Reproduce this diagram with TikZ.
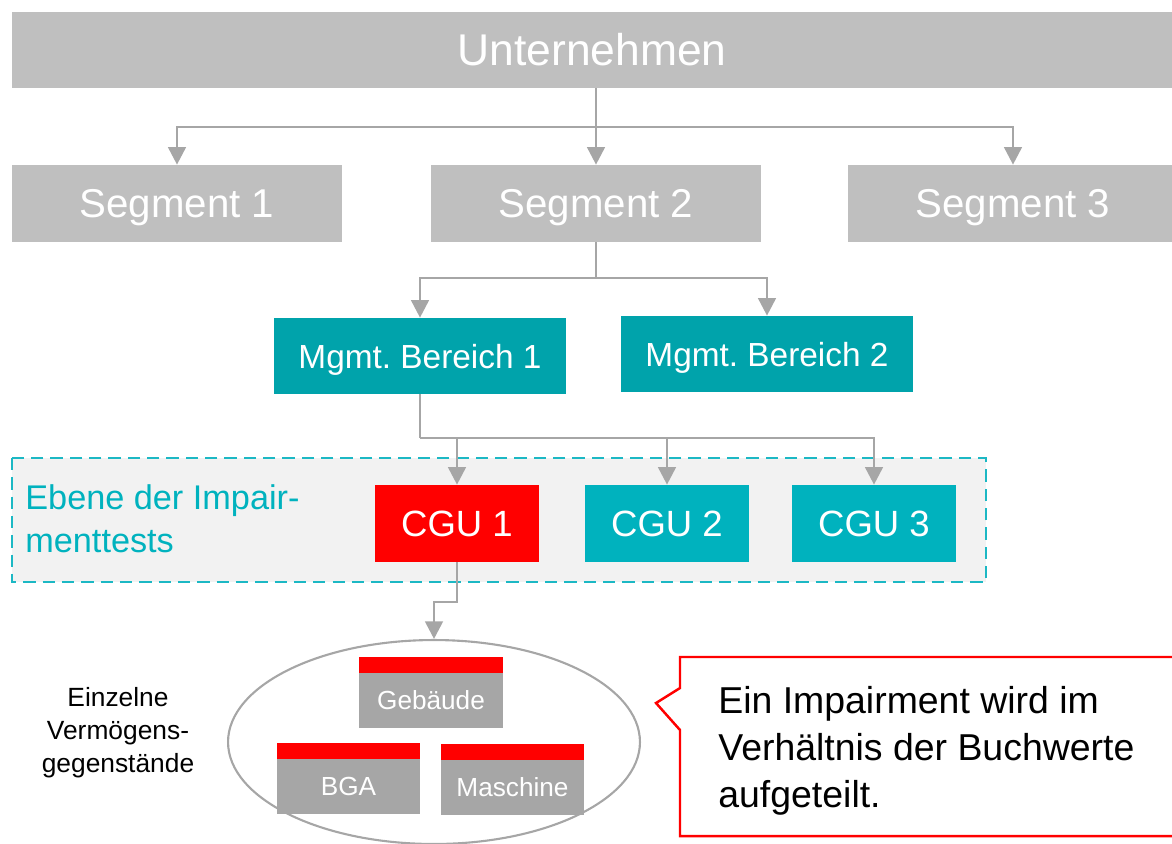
\documentclass[tikz,border=0pt]{standalone}
\usepackage{fontspec}
\setmainfont{Liberation Sans}
\usepackage{tikz}
\usetikzlibrary{arrows.meta,shapes.geometric,positioning,calc}
\definecolor{boxgray}{HTML}{BFBFBF}
\definecolor{linegray}{HTML}{A6A6A6}
\definecolor{mgmtteal}{HTML}{00A3AB}
\definecolor{cguteal}{HTML}{00B2BE}
\definecolor{dashteal}{HTML}{1CB8C4}
\definecolor{levelfill}{HTML}{F2F2F2}
\definecolor{impred}{HTML}{FF0000}

\begin{document}
\begin{tikzpicture}[x=0.02cm,y=-0.02cm,
  conn/.style={draw=linegray,line width=1.6pt,-{Triangle[width=10pt,length=10pt]}},
  trunk/.style={draw=linegray,line width=1.6pt},
  top node/.style={rectangle,fill=boxgray,text=white,minimum width=23.2cm,minimum height=1.52cm,font=\fontsize{25.3}{30}\selectfont},
  seg node/.style={rectangle,fill=boxgray,text=white,minimum width=6.6cm,minimum height=1.54cm,text depth=0pt,font=\fontsize{22.9}{27}\selectfont},
  mgmt node/.style={rectangle,fill=mgmtteal,text=white,minimum width=5.84cm,minimum height=1.52cm,text depth=0pt,font=\fontsize{19}{23}\selectfont},
  cgu node/.style={rectangle,fill=cguteal,text=white,minimum width=3.28cm,minimum height=1.54cm,font=\fontsize{20.8}{25}\selectfont},
  asset node/.style={rectangle,fill=linegray,text=white,minimum width=2.88cm,minimum height=1.1cm,font=\fontsize{14.9}{18}\selectfont},
  bar node/.style={rectangle,fill=impred,minimum width=2.88cm,minimum height=0.32cm,inner sep=0pt}]
	\useasboundingbox (0,0) rectangle (1172,843);
	\fill[levelfill] (12,458) rectangle (986,582);
	\draw[dashteal,line width=1.4pt,dash pattern=on 7pt off 4pt] (12,458) rectangle (986,582);
	\node[top node] (UN) at (592,50) {Unternehmen};
	\node[seg node] (S1) at (177,203.5) {Segment 1};
	\node[seg node] (S2) at (596,203.5) {Segment 2};
	\node[seg node] (S3) at (1013,203.5) {Segment 3};
	\node[mgmt node] (M1) at (420,356) {Mgmt.\ Bereich 1};
	\node[mgmt node] (M2) at (767,354) {Mgmt.\ Bereich 2};
	\node[cgu node,fill=impred] (C1) at (457,523.5) {CGU 1};
	\node[cgu node] (C2) at (667,523.5) {CGU 2};
	\node[cgu node] (C3) at (874,523.5) {CGU 3};
	\node[anchor=north west,inner sep=0pt,align=left,text=cguteal,font=\fontsize{19.5}{24.4}\selectfont] (level) at (25,484) {Ebene der Impair-\\menttests};
	\node[ellipse,draw=linegray,line width=1.2pt,minimum width=8.24cm,minimum height=4.08cm] (AS) at (434,742) {};
	\node[asset node] (GB) at (431,700.5) {Geb\"aude};
	\node[bar node] (GBbar) at (431,665) {};
	\node[asset node] (BG) at (348.5,786.5) {BGA};
	\node[bar node] (BGbar) at (348.5,750.5) {};
	\node[asset node] (MA) at (512.5,787) {Maschine};
	\node[bar node] (MAbar) at (512.5,751.5) {};
	\node[anchor=north,inner sep=0pt,align=center,font=\fontsize{15}{18.7}\selectfont] (single) at (118,687) {Einzelne\\Verm\"ogens-\\gegenst\"ande};
	\draw[impred,line width=1.4pt,fill=white] (1180,657) -- (680,657) -- (680,688) -- (656,703) -- (680,730) -- (680,836) -- (1180,836);
	\node[anchor=north west,inner sep=0pt,align=left,font=\fontsize{21.3}{26.7}\selectfont] (note) at (718,686) {Ein Impairment wird im\\Verh\"altnis der Buchwerte\\aufgeteilt.};
	\coordinate (split1) at (596,127);
	\coordinate (split2) at (596,278);
	\coordinate (split3) at (420,438);
	\coordinate (split4) at (457,602);
	\draw[conn] (UN.south -| S2.north) -- (S2.north);
	\draw[conn] (split1) -| (S1.north);
	\draw[conn] (split1) -| (S3.north);
	\draw[trunk] (S2.south) -- (split2);
	\draw[conn] (split2) -| (M1.north);
	\draw[conn] (split2) -| (M2.north);
	\draw[trunk] (M1.south) -- (split3);
	\draw[conn] (split3) -| (C1.north);
	\draw[conn] (split3) -| (C2.north);
	\draw[conn] (split3) -| (C3.north);
	\draw[conn] (C1.south) -- (split4) -| (AS.north);
\end{tikzpicture}
\end{document}
